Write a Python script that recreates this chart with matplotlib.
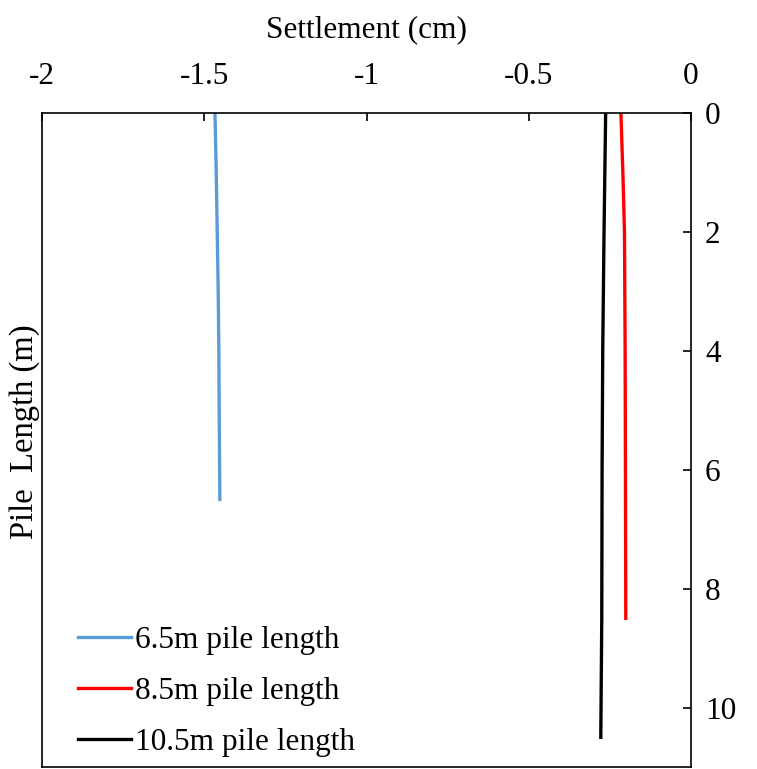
import numpy as np
import matplotlib
matplotlib.use("Agg")
import matplotlib.pyplot as plt

plt.rcParams['font.family'] = ['Liberation Serif', 'DejaVu Serif']

# depth (m) and settlement (cm)
depth_65 = [0, 1, 2, 3, 4, 5, 6.5]
settle_65 = [-1.467, -1.463, -1.460, -1.457, -1.455, -1.454, -1.452]

depth_85 = [0, 1, 2, 4, 6, 8.5]
settle_85 = [-0.216, -0.210, -0.205, -0.203, -0.202, -0.201]

depth_105 = [0, 2, 4, 6, 8.5, 10.5]
settle_105 = [-0.263, -0.268, -0.272, -0.274, -0.275, -0.278]

labels = ['6.5m pile length', '8.5m pile length', '10.5m pile length']
colors = ['#5B9BD5', '#FF0000', '#000000']

fs = 22.5

fig = plt.figure(figsize=(7.57, 7.69), dpi=100)
ax = fig.add_axes([42/757, 1 - 767/769, (691-42)/757, (767-113)/769])

ax.plot(settle_65, depth_65, color=colors[0], lw=2.4, label=labels[0])
ax.plot(settle_85, depth_85, color=colors[1], lw=2.4, label=labels[1])
ax.plot(settle_105, depth_105, color=colors[2], lw=2.4, label=labels[2])

ax.set_xlim(-2, 0)
ax.set_ylim(11, 0)
ax.set_xticks([-2, -1.5, -1, -0.5, 0])
ax.set_xticklabels(['-2', '-1.5', '-1', '-0.5', '0'])
ax.set_yticks([0, 2, 4, 6, 8, 10])

ax.xaxis.tick_top()
ax.xaxis.set_label_position('top')
ax.yaxis.tick_right()
ax.tick_params(axis='both', direction='in', length=6, width=1.2, labelsize=fs)
ax.tick_params(axis='x', pad=16)
ax.tick_params(axis='y', pad=10)

for sp in ax.spines.values():
    sp.set_linewidth(1.2)

ax.set_xlabel('Settlement (cm)', fontsize=fs, labelpad=18)
fig.text(25/757, 1 - 432/769, 'Pile  Length (m)', rotation=90, fontsize=fs + 1,
         ha='center', va='center')

ax.legend(loc='lower left', bbox_to_anchor=(0.055, 0.016), frameon=False,
          fontsize=fs, handlelength=1.7, handletextpad=0.13, labelspacing=0.7,
          borderpad=0, borderaxespad=0)

fig.savefig('out.png', dpi=100)
